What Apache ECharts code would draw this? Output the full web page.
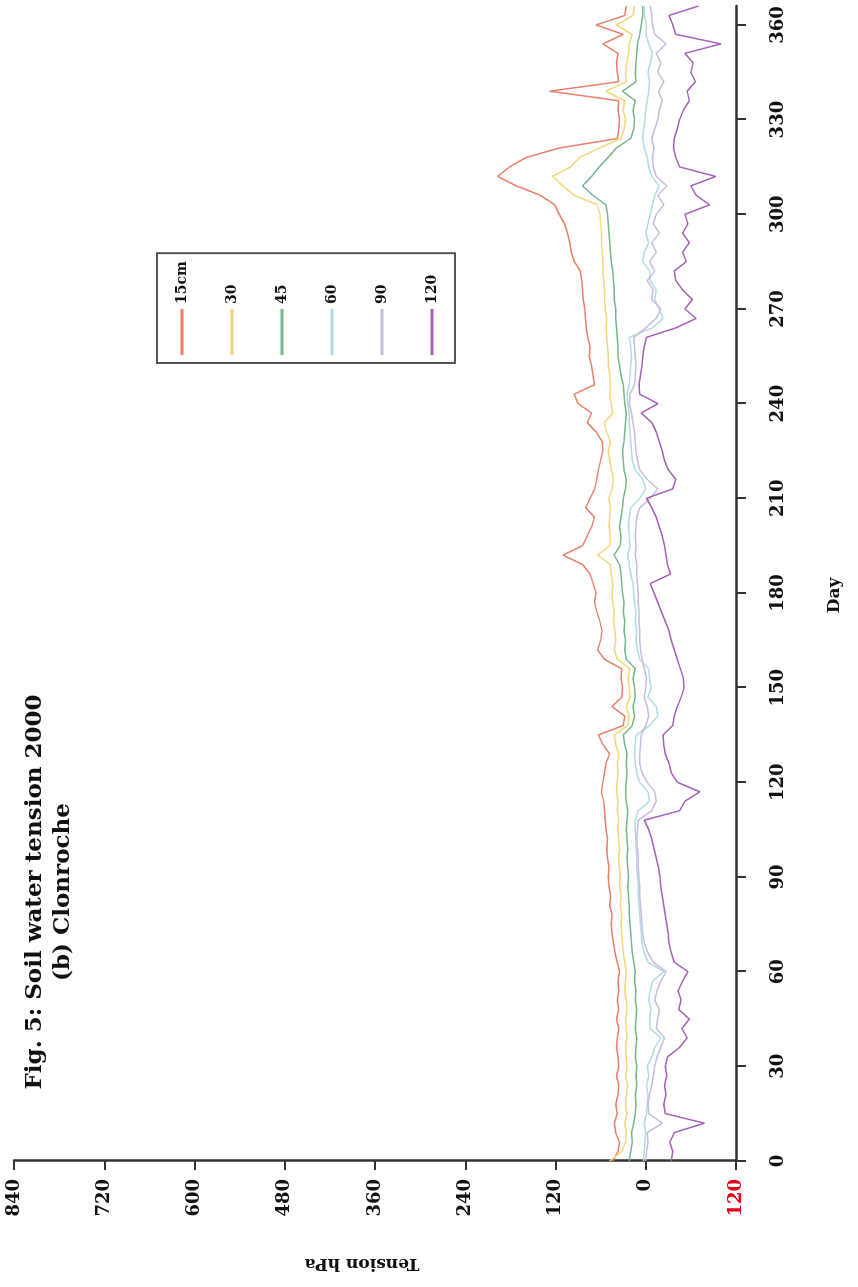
<!DOCTYPE html>
<html>
<head>
<meta charset="utf-8">
<title>Soil water tension 2000 - Clonroche</title>
<script src="https://cdn.jsdelivr.net/npm/echarts@6/dist/echarts.min.js"></script>
<style>
html, body { margin: 0; padding: 0; width: 858px; height: 1287px; overflow: hidden; background: #fff; }
/* the figure is printed sideways: draw it landscape, then turn it a quarter turn */
#chart { position: absolute; left: 0; top: 0; width: 1287px; height: 858px;
         transform-origin: 0 0; transform: translate(0, 1287px) rotate(-90deg); }
</style>
</head>
<body>
<div id="chart"></div>
<script>
// day of year, every 3rd day
var days = [];
for (var d = 0; d <= 366; d += 3) days.push(d);

var depths = ['15cm', '30', '45', '60', '90', '120'];
var colors = ['#e9806b', '#f2d77a', '#76b88d', '#b2dbe6', '#c8bddf', '#a463b4'];
var dayTicks = [0, 30, 60, 90, 120, 150, 180, 210, 240, 270, 300, 330, 360];
var titleLines = ['Fig. 5: Soil water tension 2000', '(b) Clonroche'];

// tension hPa
var s15 = [44,37,35,40,42,38,40,37,36,39,36,37,39,38,36,39,36,38,36,37,35,38,41,
  43,45,46,45,48,47,49,50,49,51,52,51,53,54,55,56,59,57,55,53,
  48,57,63,30,28,45,32,31,33,32,55,64,60,58,61,65,68,66,70,74,
  84,110,84,78,72,68,80,74,68,65,63,60,57,58,66,78,72,90,95,68,
  70,72,75,74,77,79,80,81,83,84,85,87,95,99,101,104,108,115,121,140,
  172,197,181,159,115,38,36,35,37,36,128,36,38,39,37,57,30,66,28,26];
var s30 = [48,32,27,26,28,25,27,26,24,27,25,26,27,25,26,27,25,26,28,27,26,28,30,
  31,32,33,32,34,33,35,34,35,36,35,36,37,36,38,37,39,38,37,38,
  36,40,42,24,22,26,21,22,24,21,38,42,40,41,43,42,44,45,44,46,
  47,64,48,47,49,48,47,49,45,43,46,48,50,47,52,55,44,46,48,47,
  48,50,50,51,52,53,52,54,55,55,56,57,57,58,59,59,60,61,64,95,
  110,124,100,88,62,33,29,27,30,28,53,26,27,25,23,22,18,39,17,15];
var s45 = [22,20,18,19,16,14,13,14,12,13,12,14,13,12,14,13,12,14,13,15,14,16,18,
  19,20,21,22,22,23,24,23,24,25,24,25,26,25,24,26,27,26,25,26,
  25,28,30,18,15,17,14,15,17,14,26,28,27,29,28,30,29,31,32,33,
  35,42,34,33,35,33,31,30,27,26,29,30,31,29,28,27,26,28,29,30,
  33,35,37,37,38,39,40,40,42,42,43,44,46,47,48,49,50,51,53,70,
  84,72,62,50,39,20,16,15,17,14,31,13,14,13,12,11,8,6,4,4];
var s60 = [3,2,1,0,2,-1,-2,-3,-1,-4,-2,-8,-12,-20,-6,-5,-7,-4,-6,-9,-24,-3,2,
  5,6,7,8,9,10,10,11,12,12,13,13,14,14,10,-5,-3,8,12,14,
  15,14,13,-5,-16,-14,-3,-7,-5,-4,8,11,13,12,14,13,15,16,17,20,
  22,24,21,22,23,22,20,8,0,4,14,18,19,20,21,22,22,24,25,22,
  21,20,19,20,22,-9,-23,-18,-12,-14,-6,-5,4,2,-4,0,-3,-6,-9,-12,
  -18,-8,-4,-2,2,4,3,1,0,-2,-4,-5,-3,-6,-9,-4,0,-1,2,2];
var s90 = [0,-1,-3,-2,-22,-4,-3,-5,-8,-10,-12,-15,-20,-25,-14,-16,-18,-12,-15,-20,-27,-10,-3,
  2,4,5,6,7,8,8,9,10,10,11,12,11,10,-8,-14,-12,-2,5,8,
  8,7,6,0,-4,-2,2,0,-1,2,5,7,8,8,9,9,10,10,11,12,
  12,14,13,14,13,12,8,-6,-16,-2,8,11,13,14,15,17,19,22,21,15,
  14,13,14,15,16,0,-14,-20,-8,-10,-2,-12,-5,-14,-8,-18,-10,-14,-24,-16,
  -28,-14,-10,-9,-11,-8,-12,-16,-18,-22,-17,-24,-16,-20,-14,-27,-12,-9,-8,-6];
var s120 = [-34,-36,-32,-38,-78,-26,-24,-27,-25,-28,-26,-29,-45,-55,-48,-58,-44,-47,-43,-49,-56,-38,-34,
  -31,-30,-28,-26,-24,-22,-20,-19,-17,-14,-11,-8,-4,2,-45,-52,-72,-42,-34,-31,
  -26,-24,-23,-36,-38,-42,-47,-51,-50,-46,-42,-38,-34,-31,-26,-21,-16,-11,-6,-33,
  -29,-27,-25,-22,-18,-14,-8,-1,-36,-40,-30,-25,-22,-18,-14,-8,6,-16,8,9,
  7,5,4,2,-1,-40,-67,-52,-62,-49,-40,-38,-54,-49,-58,-49,-56,-52,-85,-67,
  -60,-93,-45,-40,-37,-38,-42,-45,-50,-58,-55,-66,-60,-63,-52,-100,-40,-36,-31,-70];

var values = [s15, s30, s45, s60, s90, s120];

var myChart = echarts.init(document.getElementById('chart'), null, { width: 1287, height: 858 });

var serif = '"DejaVu Serif", "Liberation Serif", serif';

var series = [];
for (var k = 0; k < depths.length; k++) {
	var pts = [];
	for (var i = 0; i < days.length; i++) pts.push([days[i], values[k][i]]);
	series.push({
		name: depths[k],
		type: 'line',
		data: pts,
		symbol: 'none',
		showSymbol: false,
		lineStyle: { width: 1.5, color: colors[k] },
		itemStyle: { color: colors[k] }
	});
}

option = {
	backgroundColor: '#ffffff',
	animation: false,
	color: colors,
	graphic: [{
		type: 'text',
		x: 395,
		y: 21,
		style: {
			text: titleLines.join('\n'),
			font: 'bold 23px ' + serif,
			fill: '#111',
			align: 'center',
			verticalAlign: 'top',
			lineHeight: 28
		}
	}],
	legend: {
		data: depths,
		orient: 'vertical',
		left: 924,
		top: 157,
		padding: [18, 8, 16, 8],
		itemGap: 36,
		itemWidth: 46,
		itemHeight: 3,
		icon: 'rect',
		borderColor: '#555',
		borderWidth: 2,
		textStyle: { fontFamily: serif, fontWeight: 'bold', fontSize: 14, color: '#111' }
	},
	grid: { left: 126, right: 6, top: 14, bottom: 122 },
	xAxis: {
		type: 'value',
		min: 0,
		max: 366,
		interval: 30,
		name: 'Day',
		nameLocation: 'middle',
		nameGap: 90,
		nameTextStyle: { fontFamily: serif, fontWeight: 'bold', fontSize: 17, color: '#111',
			padding: [0, 24, 0, 0] },
		axisLine: { show: true, onZero: false, lineStyle: { color: '#333', width: 2.5 } },
		axisTick: { show: true, length: 10, customValues: dayTicks, lineStyle: { color: '#333', width: 2 } },
		axisLabel: { margin: 33, customValues: dayTicks,
			fontFamily: serif, fontWeight: 'bold', fontSize: 18, color: '#111' },
		splitLine: { show: false }
	},
	yAxis: {
		type: 'value',
		min: -120,
		max: 840,
		interval: 120,
		name: 'Tension hPa',
		nameLocation: 'middle',
		nameGap: 94,
		nameTextStyle: { fontFamily: serif, fontWeight: 'bold', fontSize: 17, color: '#111',
			padding: [0, 0, 0, 26] },
		axisLine: { show: true, onZero: false, lineStyle: { color: '#333', width: 2.5 } },
		axisTick: { show: true, length: 9, lineStyle: { color: '#333', width: 2 } },
		axisLabel: {
			margin: 18,
			fontFamily: serif, fontWeight: 'bold', fontSize: 18, color: '#111',
			// the negative end is printed as a red 120
			formatter: function (v) { return v < 0 ? '{r|' + (-v) + '}' : String(v); },
			rich: { r: { color: '#e3001b', fontFamily: serif, fontWeight: 'bold', fontSize: 18 } }
		},
		splitLine: { show: false }
	},
	series: series
};
myChart.setOption(option);
</script>
</body>
</html>
